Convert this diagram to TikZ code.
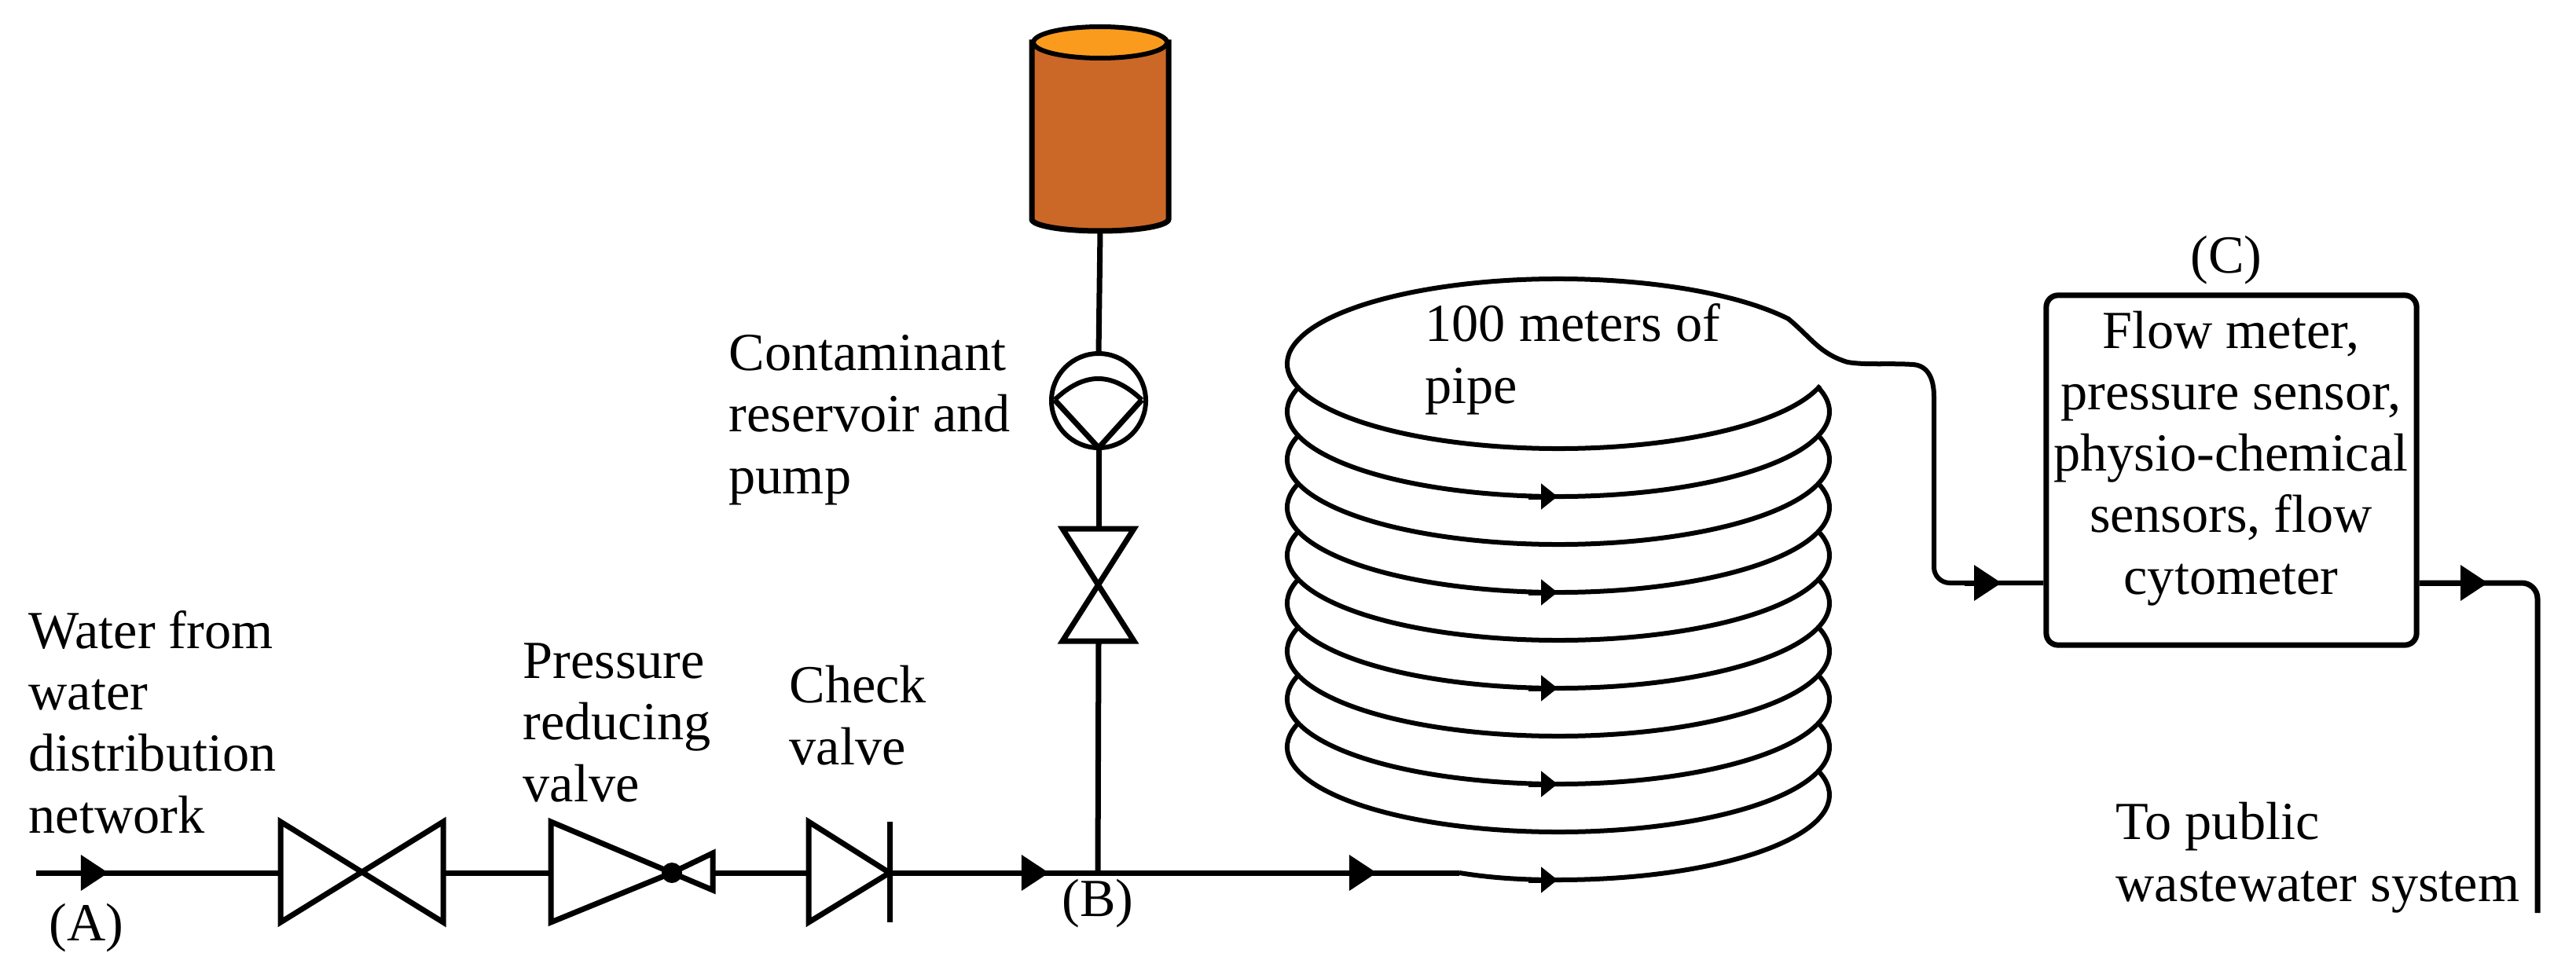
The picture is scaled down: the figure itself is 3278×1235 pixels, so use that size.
\documentclass[tikz,border=0pt]{standalone}
\usepackage{fontspec}
\setmainfont{Liberation Serif}
\usetikzlibrary{calc}
\usetikzlibrary{arrows.meta}

\definecolor{tankbody}{HTML}{CB6828}
\definecolor{tanktop}{HTML}{FB9B1E}

\tikzset{
  pipe/.style={black, line width=0.07cm, line join=round},
  flow/.style={pipe, -{Triangle[length=0.35cm, width=0.44cm]}},
  coilflow/.style={pipe, -{Triangle[length=0.21cm, width=0.32cm]}},
  valve/.style={black, line width=0.07cm, line join=miter, miter limit=3},
  coil/.style={black, line width=0.06cm},
  caption/.style={inner sep=0pt, anchor=base west, align=left},
  tag/.style={inner sep=0pt, anchor=base},
}

\begin{document}
\begin{tikzpicture}[x=0.01cm, y=0.01cm, font=\fontsize{19.4}{22.2}\selectfont]
  \useasboundingbox (0,0) rectangle (3278,1235);

  % Define points on the main line
  \coordinate (inlet) at (46,124);
  \coordinate (tipA) at (138,124);
  \coordinate (gateL) at (357,124);
  \coordinate (gateR) at (564,124);
  \coordinate (prvL) at (701,124);
  \coordinate (prvJoint) at (855,124);
  \coordinate (prvR) at (907,124);
  \coordinate (checkL) at (1029,124);
  \coordinate (checkR) at (1132,124);
  \coordinate (tipB) at (1335,124);
  \coordinate (tee) at (1397,124);
  \coordinate (tipCoil) at (1752,124);
  \coordinate (coilIn) at (1857,124);

  % Main line
  \draw[pipe] (inlet) -- (gateL);
  \draw[pipe] (gateR) -- (prvL);
  \draw[pipe] (prvR) -- (checkL);
  \draw[pipe] (checkR) -- (coilIn);
  \draw[flow] (inlet) -- (tipA);
  \draw[flow] (checkR) -- (tipB);
  \draw[flow] (tee) -- (tipCoil);

  % Valves on the main line
  \draw[valve] (357,189) -- (357,61) -- (564,189) -- (564,61) -- cycle;
  \draw[valve] (701,189) -- (701,61) -- (prvJoint) -- cycle;
  \draw[valve] (907,149) -- (907,102) -- (prvJoint) -- cycle;
  \fill[black] (prvJoint) circle (13);
  \draw[valve] (1029,189) -- (1029,61) -- (checkR) -- cycle;
  \draw[valve] (1132,189) -- (1132,61);

  % Reservoir
  \coordinate (tankOut) at (1400,941);
  \draw[valve, fill=tankbody] (1313,1181) -- (1313,956)
    arc[start angle=180, end angle=360, x radius=87, y radius=15] -- (1487,1181) -- cycle;
  \draw[coil, fill=tanktop] (1400,1181) ellipse [x radius=85, y radius=20];

  % Pump
  \coordinate (pumpC) at (1398,725);
  \coordinate (pumpIn) at (1398,785);
  \coordinate (pumpOut) at (1398,665);
  \draw[coil] (pumpC) circle (60);
  \draw[coil] (1342,726) .. controls (1380,762) and (1415,762) .. (1453,726);
  \draw[valve] (1342,726) -- (pumpOut) -- (1453,726);

  % Valve under the pump
  \coordinate (vvalveT) at (1398,562);
  \coordinate (vvalveB) at (1398,419);
  \draw[valve] (1352,562) -- (1443,562) -- (1352,419) -- (1443,419) -- cycle;

  % Branch line
  \draw[pipe] (tankOut) -- (pumpIn);
  \draw[pipe] (pumpOut) -- (vvalveT);
  \draw[pipe] (vvalveB) -- (tee);

  % Pipe coil
  \def\coilx{1983}
  \foreach \k in {1,...,8} {
    \pgfmathsetmacro{\coily}{711-61*(\k-1)}
    \draw[coil] ($(\coilx,\coily)+(163:345 and 108)$)
      arc[start angle=163, end angle=377, x radius=345, y radius=108];
  }
  \draw[coil] (coilIn) .. controls (1900,117) and (1940,115) .. (\coilx,115)
    arc[start angle=270, end angle=377, x radius=345, y radius=108];
  \foreach \y in {603,481,359,237,115} {
    \draw[coilflow] (1945,\y) -- (1982,\y);
  }

  % Top turn of the coil, leaving for the sensors
  \coordinate (coilOut) at (2461,513);
  \draw[coil] ($(\coilx,772)+(-15:345 and 108)$)
    arc[start angle=-15, end angle=-328, x radius=345, y radius=108]
    .. controls (2305,805) and (2315,785) .. (2351,774)
    .. controls (2375,770) and (2405,773) .. (2434,771)
    .. controls (2452,770) and (2461,755) .. (2461,730) -- (coilOut);

  % Sensors
  \node[draw, line width=0.07cm, rounded corners=0.15cm, minimum width=4.71cm, minimum height=4.45cm,
    inner sep=0pt] (sensors) at (2839.5,636.5) {};
  \coordinate (tipIn) at (2547,493);
  \coordinate (tipOut) at (3166,493);
  \coordinate (drain) at (3229,73);
  \draw[coil, rounded corners=0.2cm] (coilOut) -- (2461,493) -- (sensors.west |- tipIn);
  \draw[flow] (2500,493) -- (tipIn);
  \draw[pipe, rounded corners=0.2cm] (sensors.east |- tipOut) -- (3229,493) -- (drain);
  \draw[flow] (sensors.east |- tipOut) -- (tipOut);

  % Labels
  \node[inner sep=0pt, anchor=base, align=center] (sensorText) at (2839,479)
    {Flow meter,\\pressure sensor,\\physio-chemical\\sensors, flow\\cytometer};
  \node[caption] (waterLabel) at (36,175) {Water from\\water\\distribution\\network};
  \node[caption] (prvLabel) at (665,215) {Pressure\\reducing\\valve};
  \node[caption] (checkLabel) at (1004,262) {Check\\valve};
  \node[caption] (pumpLabel) at (927,607) {Contaminant\\reservoir and\\pump};
  \node[caption] (coilLabel) at (1813,722) {100 meters of\\pipe};
  \node[caption] (drainLabel) at (2692,88) {To public\\wastewater system};
  \node[tag] (tagA) at (110,38) {(A)};
  \node[tag] (tagB) at (1397,69) {(B)};
  \node[tag] (tagC) at (2833,888) {(C)};

\end{tikzpicture}
\end{document}
